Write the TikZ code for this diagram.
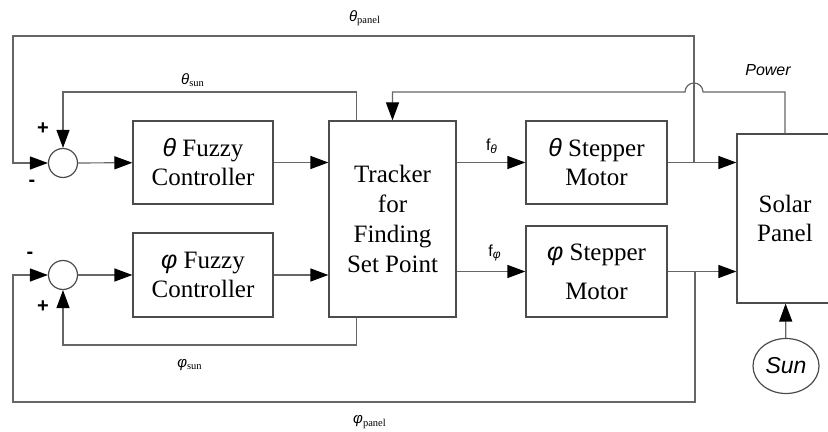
\documentclass[tikz,border=0pt]{standalone}
\usepackage{fontspec}
\setmainfont{Liberation Serif}
\setsansfont{Liberation Sans}
\usetikzlibrary{arrows.meta,shapes.geometric}

\newcommand{\gk}[1]{{\sffamily\itshape #1}}
\newcommand{\sgl}[2]{{\fontsize{7.5}{8}\selectfont\gk{#1}\textsubscript{\rmfamily #2}}}

\begin{document}
\begin{tikzpicture}
    % 样式: 方框, 求和点, 信号线, 箭头
    [x=0.5pt,y=-0.5pt,
    BlkNode/.style={draw=black!70, line width=0.6pt, align=center, inner sep=0pt, font=\rmfamily\fontsize{12.5}{14.5}\selectfont},
    SumNode/.style={circle, draw=black!70, line width=0.6pt, minimum size=14.5pt, inner sep=0pt},
    SigLine/.style={draw=black!60, line width=0.6pt},
    SigArrow/.style={SigLine, -{Triangle[length=9pt,width=6.5pt,black]}},
    SignText/.style={font=\sffamily\bfseries\fontsize{10}{10}\selectfont}]

    \useasboundingbox (0,0) rectangle (828,432);

    % 求和点
    \node[SumNode] (sumT) at (63,163) {};
    \node[SumNode] (sumP) at (63,275) {};

    % 模糊控制器
    \node[BlkNode, minimum width=70pt, minimum height=41.5pt] (fuzT) at (203,162.5) {\gk{θ} Fuzzy\\Controller};
    \node[BlkNode, minimum width=70pt, minimum height=42pt] (fuzP) at (203,275) {\gk{φ} Fuzzy\\Controller};

    % 跟踪器
    \node[BlkNode, minimum width=63.5pt, minimum height=98pt, font=\rmfamily\fontsize{12.5}{15}\selectfont] (track) at (392.5,219) {Tracker\\for\\Finding\\Set Point};

    % 步进电机
    \node[BlkNode, minimum width=70.5pt, minimum height=41.5pt] (stepT) at (596.5,162.5) {\gk{θ} Stepper\\Motor};
    \node[BlkNode, minimum width=70.5pt, minimum height=45.5pt] (stepP) at (596.5,271.5) {\gk{φ} Stepper\\[5pt]Motor};

    % 太阳能板与太阳
    \node[BlkNode, minimum width=48pt, minimum height=84.5pt] (solar) at (785,218.5) {Solar\\Panel};
    \node[ellipse, draw=black!70, line width=0.6pt, minimum width=33pt, minimum height=27.5pt, inner sep=0pt, font=\sffamily\itshape\fontsize{11.5}{12}\selectfont] (sun) at (786,366) {Sun};

    % 分支点与拐点
    \coordinate (jT) at (694,163);
    \coordinate (jP) at (695,272);
    \coordinate (cTL) at (13,36);
    \coordinate (cBL) at (13,402);
    \coordinate (cTs) at (63,92);
    \coordinate (cPs) at (63,345);

    % 前向通路
    \draw[SigArrow] (sumT) -- (fuzT);
    \draw[SigArrow] (sumP) -- (fuzP);
    \draw[SigArrow] (fuzT) -- (fuzT -| track.west);
    \draw[SigArrow] (fuzP) -- (fuzP -| track.west);
    \draw[SigArrow] (track.east |- stepT) -- (stepT);
    \draw[SigArrow] (track.east |- stepP) -- (stepP);
    \draw[SigArrow] (stepT) -- (stepT -| solar.west);
    \draw[SigArrow] (stepP) -- (stepP -| solar.west);
    \draw[SigArrow] (sun) -- (solar);

    % 反馈通路
    \draw[SigArrow] (jT) |- (cTL) |- (sumT);
    \draw[SigArrow] (jP) |- (cBL) |- (sumP);
    \draw[SigArrow] ([xshift=14pt]track.north west) |- (cTs) -- (sumT);
    \draw[SigArrow] ([xshift=14pt]track.south west) |- (cPs) -- (sumP);
    \draw[SigArrow] (solar.north) |- (703,92) arc[start angle=0, end angle=-180, radius=9] -| (track.north);

    % 说明文字
    \node (lblTp) at (365,18) {\sgl{θ}{panel}};
    \node (lblTs) at (193,80) {\sgl{θ}{sun}};
    \node (lblPs) at (190,365) {\sgl{φ}{sun}};
    \node (lblPp) at (370,422) {\sgl{φ}{panel}};
    \node (lblFt) at (492,146) {{\sffamily\fontsize{8}{9}\selectfont f\textsubscript{\itshape θ}}};
    \node (lblFp) at (495,253) {{\sffamily\fontsize{8}{9}\selectfont f\textsubscript{\itshape φ}}};
    \node[font=\sffamily\itshape\fontsize{8}{9}\selectfont] (lblPw) at (768,70) {Power};

    % 正负号
    \node[SignText] (pT) at (43,129) {+};
    \node[SignText] (mT) at (32,183) {-};
    \node[SignText] (mP) at (30,255) {-};
    \node[SignText] (pP) at (43,307) {+};

\end{tikzpicture}
\end{document}
